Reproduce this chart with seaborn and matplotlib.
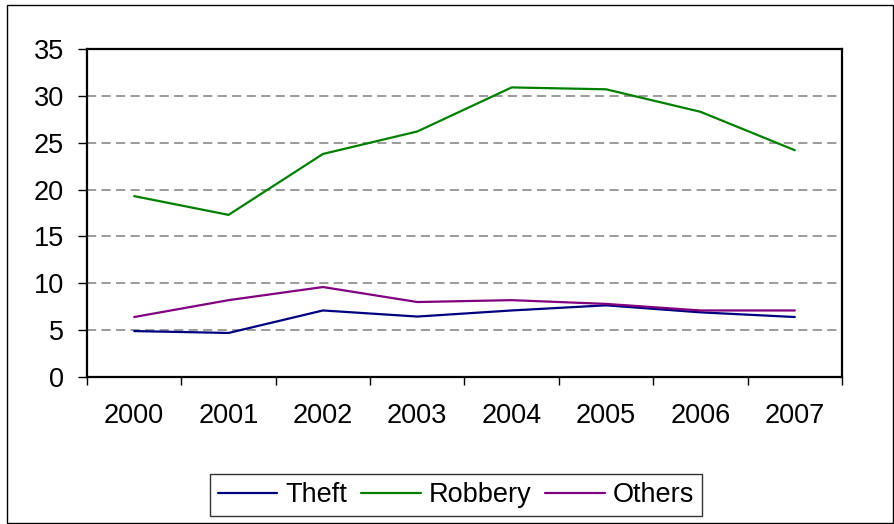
import matplotlib
matplotlib.use("Agg")
import matplotlib.pyplot as plt
from matplotlib.patches import Rectangle
from matplotlib.ticker import FixedLocator
import numpy as np
import pandas as pd
import seaborn as sns

years = ["2000", "2001", "2002", "2003", "2004", "2005", "2006", "2007"]
theft = [4.9, 4.7, 7.1, 6.45, 7.1, 7.65, 6.9, 6.4]
robbery = [19.3, 17.3, 23.8, 26.2, 30.9, 30.7, 28.3, 24.2]
others = [6.4, 8.2, 9.6, 8.0, 8.2, 7.8, 7.1, 7.1]
series_names = ["Theft", "Robbery", "Others"]
colors = {"Theft": "#000080", "Robbery": "#008000", "Others": "#800080"}

sns.set_theme(style="white")
plt.rcParams["font.family"] = ["Liberation Sans", "DejaVu Sans"]
plt.rcParams["text.color"] = "black"

rows = []
for name, vals in zip(series_names, [theft, robbery, others]):
    for i, v in enumerate(vals):
        rows.append({"pos": i, "year": years[i], "value": v, "series": name})
df = pd.DataFrame(rows)

fig = plt.figure(figsize=(8.95, 5.24), dpi=100)
ax = fig.add_axes([87 / 895, 1 - 377 / 524, (842 - 87) / 895, (377 - 49) / 524])

sns.lineplot(data=df, x="pos", y="value", hue="series", hue_order=series_names,
             palette=colors, linewidth=1.6, ax=ax, legend=False)

ax.set_xlim(-0.5, len(years) - 0.5)
ax.set_ylim(0, 35)
ax.set_xlabel("")
ax.set_ylabel("")

FS = 19.5

# category labels centred, tick marks on the category boundaries
ax.xaxis.set_major_locator(FixedLocator(np.arange(len(years))))
ax.set_xticklabels(years)
ax.xaxis.set_minor_locator(FixedLocator(np.arange(len(years) + 1) - 0.5))
ax.tick_params(axis="x", which="major", length=0, pad=19, labelsize=FS,
               labelcolor="black")
ax.tick_params(axis="x", which="minor", length=6, width=1, color="black",
               direction="out", bottom=True)
ax.set_yticks(np.arange(0, 36, 5))
ax.tick_params(axis="y", length=6.5, width=1, color="black", direction="out",
               left=True, pad=10, labelsize=FS, labelcolor="black")

for y in range(5, 35, 5):
    ax.axhline(y, color="#808080", linestyle=(0, (6, 3.5)), linewidth=1.1, zorder=0)

for spine in ax.spines.values():
    spine.set_visible(True)
    spine.set_color("black")
    spine.set_linewidth(1.6)

handles = [plt.Line2D([], [], color=colors[n], linewidth=1.6) for n in series_names]
leg = fig.legend(handles, series_names, loc="center",
                 bbox_to_anchor=(456 / 895, 1 - 495 / 524), ncol=3,
                 frameon=True, fancybox=False, fontsize=FS,
                 handlelength=2.2, handletextpad=0.3, columnspacing=0.5,
                 borderpad=0.3)
leg.get_frame().set_edgecolor("black")
leg.get_frame().set_linewidth(1.0)
for t in leg.get_texts():
    t.set_color("black")

fig.patches.append(Rectangle((7 / 895, 1 / 524), 886 / 895, 518 / 524,
                             transform=fig.transFigure, fill=False,
                             edgecolor="black", linewidth=1.0))

fig.savefig("out.png", dpi=100)
